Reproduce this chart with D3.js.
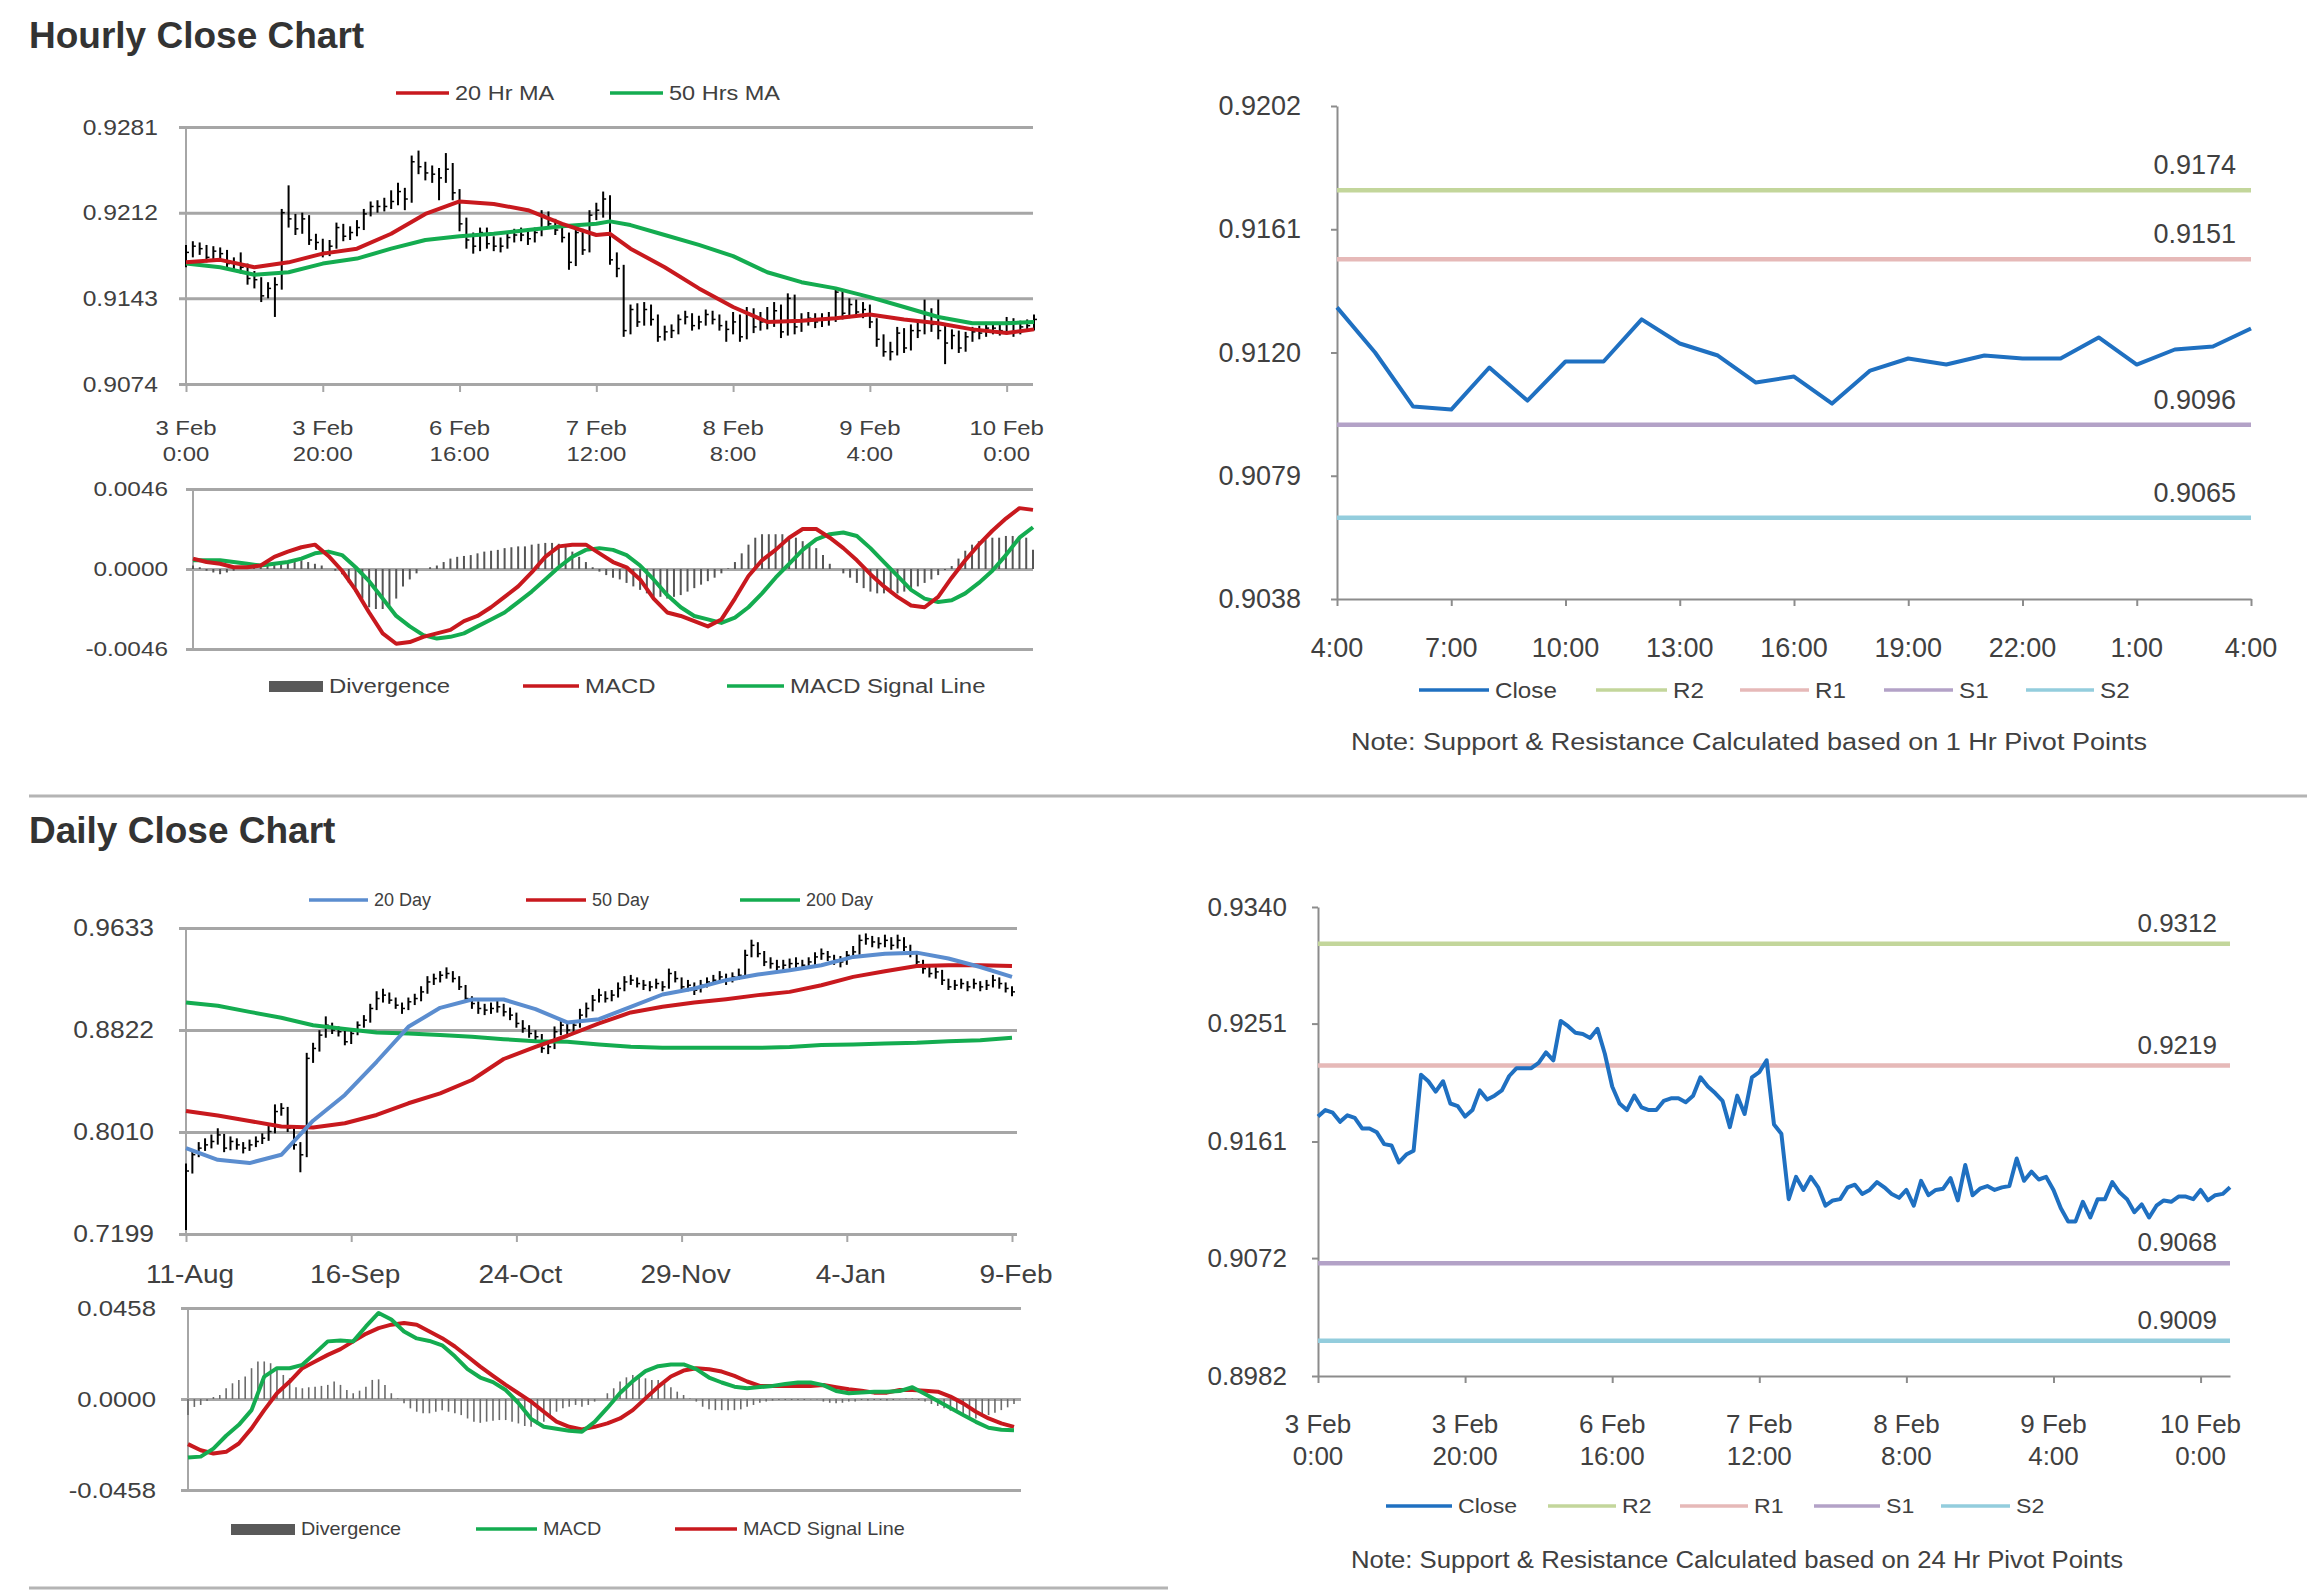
<!DOCTYPE html>
<html>
<head>
<meta charset="utf-8">
<script src="https://cdn.jsdelivr.net/npm/d3@7"></script>
<style>
    body { margin: 0; background: #ffffff; }
    svg text { font-family: "Liberation Sans", Arial, Helvetica, sans-serif; }
</style>
</head>
<body>
<svg id="chart" width="2307" height="1592"></svg>
<script>

/* * * * * * * * * * * * * *
*           DATA           *
* * * * * * * * * * * * * */

// hourly session, 3 Feb 0:00 .. 10 Feb ~4:00 (125 hourly points)
const hourTickIdx = [0, 20, 40, 60, 80, 100, 120];
const hourTickDay = ["3 Feb", "3 Feb", "6 Feb", "7 Feb", "8 Feb", "9 Feb", "10 Feb"];
const hourTickTime = ["0:00", "20:00", "16:00", "12:00", "8:00", "4:00", "0:00"];

const hourClose = [0.9180,0.9185,0.9183,0.9176,0.9181,0.9179,0.9171,0.9171,0.9168,0.9159,
    0.9158,0.9145,0.9151,0.9154,0.9212,0.9207,0.9199,0.9207,0.9190,0.9188,
    0.9180,0.9185,0.9200,0.9193,0.9196,0.9200,0.9211,0.9217,0.9217,0.9217,
    0.9221,0.9229,0.9223,0.9253,0.9249,0.9244,0.9243,0.9240,0.9247,0.9228,
    0.9203,0.9190,0.9185,0.9196,0.9187,0.9185,0.9185,0.9192,0.9194,0.9194,
    0.9191,0.9196,0.9210,0.9203,0.9198,0.9192,0.9172,0.9196,0.9182,0.9210,
    0.9214,0.9223,0.9174,0.9167,0.9117,0.9134,0.9124,0.9134,0.9126,0.9112,
    0.9116,0.9117,0.9126,0.9128,0.9121,0.9124,0.9130,0.9126,0.9121,0.9118,
    0.9124,0.9112,0.9131,0.9120,0.9124,0.9125,0.9133,0.9116,0.9143,0.9120,
    0.9125,0.9127,0.9124,0.9126,0.9127,0.9148,0.9131,0.9138,0.9132,0.9134,
    0.9124,0.9110,0.9100,0.9100,0.9115,0.9103,0.9117,0.9117,0.9130,0.9122,
    0.9117,0.9107,0.9113,0.9103,0.9112,0.9116,0.9115,0.9119,0.9119,0.9117,
    0.9124,0.9116,0.9120,0.9121,0.9126];

const hourHigh = [0.9186,0.9189,0.9188,0.9186,0.9185,0.9184,0.9182,0.9176,0.9180,0.9171,
    0.9165,0.9160,0.9156,0.9160,0.9215,0.9234,0.9211,0.9212,0.9210,0.9195,
    0.9191,0.9190,0.9204,0.9203,0.9201,0.9206,0.9215,0.9221,0.9222,0.9224,
    0.9230,0.9236,0.9232,0.9258,0.9262,0.9253,0.9250,0.9248,0.9260,0.9252,
    0.9231,0.9208,0.9196,0.9200,0.9200,0.9193,0.9192,0.9196,0.9199,0.9200,
    0.9198,0.9200,0.9214,0.9213,0.9207,0.9203,0.9196,0.9200,0.9199,0.9214,
    0.9220,0.9229,0.9226,0.9180,0.9170,0.9138,0.9139,0.9140,0.9138,0.9130,
    0.9121,0.9122,0.9130,0.9133,0.9131,0.9129,0.9134,0.9133,0.9130,0.9125,
    0.9132,0.9130,0.9136,0.9135,0.9132,0.9136,0.9140,0.9138,0.9147,0.9146,
    0.9131,0.9132,0.9131,0.9131,0.9132,0.9151,0.9150,0.9143,0.9142,0.9140,
    0.9138,0.9127,0.9114,0.9108,0.9120,0.9119,0.9122,0.9125,0.9142,0.9135,
    0.9142,0.9122,0.9118,0.9117,0.9116,0.9120,0.9121,0.9124,0.9124,0.9123,
    0.9128,0.9127,0.9125,0.9126,0.9130];

const hourLow = [0.9168,0.9176,0.9178,0.9172,0.9173,0.9174,0.9167,0.9165,0.9163,0.9154,
    0.9151,0.9140,0.9143,0.9128,0.9150,0.9200,0.9194,0.9195,0.9186,0.9182,
    0.9176,0.9177,0.9183,0.9189,0.9190,0.9193,0.9198,0.9209,0.9212,0.9213,
    0.9215,0.9218,0.9214,0.9220,0.9243,0.9238,0.9236,0.9222,0.9236,0.9222,
    0.9197,0.9183,0.9179,0.9181,0.9183,0.9181,0.9180,0.9183,0.9188,0.9189,
    0.9186,0.9188,0.9193,0.9199,0.9194,0.9188,0.9166,0.9169,0.9178,0.9180,
    0.9206,0.9208,0.9170,0.9160,0.9112,0.9114,0.9120,0.9121,0.9121,0.9108,
    0.9109,0.9111,0.9114,0.9122,0.9117,0.9118,0.9121,0.9122,0.9117,0.9108,
    0.9114,0.9108,0.9110,0.9115,0.9117,0.9118,0.9120,0.9111,0.9113,0.9114,
    0.9116,0.9121,0.9119,0.9120,0.9121,0.9124,0.9126,0.9127,0.9128,0.9127,
    0.9119,0.9104,0.9096,0.9093,0.9097,0.9099,0.9101,0.9111,0.9114,0.9116,
    0.9110,0.9090,0.9102,0.9099,0.9100,0.9108,0.9110,0.9112,0.9114,0.9113,
    0.9114,0.9112,0.9114,0.9116,0.9117];

// moving averages, read at these hourly positions
const hourMaIdx = [0,5,10,15,20,25,30,35,40,45,50,55,60,62,65,70,75,80,85,90,95,100,105,110,115,120,124];
const hourMa20 = [0.9172,0.9174,0.9168,0.9172,0.9179,0.9183,0.9195,0.9211,0.9221,0.9219,0.9214,0.9203,0.9194,
    0.9195,0.9183,0.9168,0.9151,0.9136,0.9124,0.9125,0.9127,0.9130,0.9126,0.9123,0.9118,0.9115,0.9118];
const hourMa50 = [0.9171,0.9168,0.9162,0.9164,0.9171,0.9175,0.9183,0.9190,0.9193,0.9195,0.9198,0.9201,0.9203,
    0.9205,0.9202,0.9194,0.9186,0.9177,0.9164,0.9156,0.9151,0.9144,0.9136,0.9128,0.9123,0.9123,0.9124];

// hourly MACD, read every 2nd hour
const hourMacdStep = 2;
const hourMacd = [0.0006,0.0004,0.0003,0.0001,0.0001,0.0002,0.0007,0.0010,0.00125,0.0014,
    0.00075,-0.0001,-0.0012,-0.0025,-0.0037,-0.0043,-0.0042,-0.0039,-0.0037,-0.0035,
    -0.0030,-0.0027,-0.0022,-0.0016,-0.0010,-0.0002,0.0007,0.0013,0.0014,0.0014,
    0.0009,0.0004,0.0001,-0.0006,-0.0017,-0.0025,-0.0027,-0.0030,-0.0033,-0.0029,
    -0.0017,-0.0004,0.0005,0.0011,0.0018,0.0023,0.0023,0.0018,0.0012,0.0005,
    -0.0003,-0.0010,-0.0016,-0.0021,-0.0022,-0.0016,-0.0005,0.0005,0.0014,0.0022,
    0.0029,0.0035,0.0034];
const hourSignal = [0.0005,0.0005,0.0005,0.0004,0.0003,0.0002,0.0003,0.0004,0.0006,0.0009,
    0.0010,0.0008,0.0001,-0.0007,-0.0017,-0.0027,-0.0033,-0.0038,-0.0040,-0.0039,
    -0.0037,-0.0033,-0.0029,-0.0025,-0.0019,-0.0013,-0.0006,0.0001,0.0007,0.0011,
    0.0012,0.0011,0.0008,0.0002,-0.0006,-0.0015,-0.0022,-0.0027,-0.0029,-0.0031,
    -0.0028,-0.0022,-0.0014,-0.0005,0.0003,0.0011,0.0017,0.0020,0.0021,0.0019,
    0.0012,0.0004,-0.0004,-0.0012,-0.0017,-0.0019,-0.0018,-0.0014,-0.0008,-0.0001,
    0.0008,0.0018,0.0024];
const hourDiv = [0.0002,0.0001,-0.0001,-0.0002,-0.0003,-0.0002,-0.0001,0.0000,0.0001,0.0001,
    0.0002,0.0002,0.0003,0.0004,0.0004,0.0005,0.0005,0.0004,0.0003,0.0002,
    0.0000,-0.0001,-0.0003,-0.0008,-0.0013,-0.0017,-0.0022,-0.0023,-0.0023,-0.0021,
    -0.0017,-0.0010,-0.0006,-0.00025,0.0000,0.0001,0.0002,0.0004,0.0006,0.0007,
    0.00075,0.0008,0.0009,0.0010,0.00105,0.0011,0.0012,0.00125,0.0013,0.0013,
    0.0014,0.00145,0.0015,0.0015,0.00145,0.0013,0.0010,0.0007,0.0004,0.0001,
    -0.00015,-0.00035,-0.0005,-0.0006,-0.0008,-0.0010,-0.0012,-0.0014,-0.0016,-0.0016,
    -0.0017,-0.0016,-0.0015,-0.0013,-0.0011,-0.0009,-0.0007,-0.0005,-0.00025,0.00004,
    0.0004,0.0009,0.0014,0.0018,0.0020,0.0020,0.0020,0.0020,0.0019,0.0018,
    0.0016,0.0015,0.0012,0.0008,0.0003,0.0000,-0.00025,-0.0005,-0.0008,-0.0011,
    -0.0013,-0.0014,-0.0014,-0.0014,-0.0014,-0.0013,-0.0012,-0.0010,-0.0008,-0.0006,
    -0.00035,-0.00006,0.00017,0.0006,0.00105,0.0014,0.0016,0.0017,0.0018,0.0018,
    0.0019,0.0019,0.0018,0.0018,0.0011];

const hourPriceTicks = [0.9074, 0.9143, 0.9212, 0.9281];
const hourMacdTicks = [-0.0046, 0, 0.0046];

// 1 hr pivot chart (last 24 hours)
const pivotHourTicks = ["4:00", "7:00", "10:00", "13:00", "16:00", "19:00", "22:00", "1:00", "4:00"];
const pivotHourClose = [0.9135,0.9120,0.9102,0.9101,0.9115,0.9104,0.9117,0.9117,0.9131,0.9123,
    0.9119,0.9110,0.9112,0.9103,0.9114,0.9118,0.9116,0.9119,0.9118,0.9118,
    0.9125,0.9116,0.9121,0.9122,0.9128];
const pivotHourAxis = [0.9038, 0.9079, 0.9120, 0.9161, 0.9202];
const pivotHourLevels = [0.9174, 0.9151, 0.9096, 0.9065];

// daily session, 11 Aug .. 9 Feb (131 trading days)
const dayTickIdx = [0, 26, 52, 78, 104, 130];
const dayTickLabels = ["11-Aug", "16-Sep", "24-Oct", "29-Nov", "4-Jan", "9-Feb"];

const dayClose = [0.7700,0.7830,0.7882,0.7908,0.7935,0.7987,0.7882,0.7935,0.7908,0.7882,
    0.7908,0.7935,0.7961,0.8014,0.8173,0.8199,0.8040,0.7908,0.7829,0.8596,
    0.8675,0.8781,0.8860,0.8821,0.8808,0.8728,0.8794,0.8860,0.8900,0.8993,
    0.9072,0.9099,0.9059,0.9019,0.8993,0.9046,0.9072,0.9125,0.9204,0.9231,
    0.9257,0.9271,0.9231,0.9165,0.9072,0.9032,0.8993,0.8980,0.8993,0.9006,
    0.8966,0.8940,0.8874,0.8834,0.8794,0.8768,0.8675,0.8688,0.8808,0.8860,
    0.8821,0.8860,0.8940,0.8993,0.9059,0.9099,0.9072,0.9099,0.9152,0.9204,
    0.9218,0.9191,0.9178,0.9165,0.9191,0.9165,0.9271,0.9231,0.9165,0.9178,
    0.9138,0.9178,0.9204,0.9218,0.9244,0.9218,0.9244,0.9257,0.9416,0.9495,
    0.9429,0.9363,0.9350,0.9323,0.9337,0.9350,0.9350,0.9337,0.9363,0.9403,
    0.9429,0.9403,0.9376,0.9363,0.9416,0.9443,0.9535,0.9548,0.9522,0.9509,
    0.9535,0.9495,0.9535,0.9482,0.9429,0.9363,0.9310,0.9271,0.9284,0.9218,
    0.9165,0.9178,0.9191,0.9165,0.9191,0.9165,0.9178,0.9218,0.9191,0.9152,
    0.9125];

const dayHigh = [0.7760,0.7870,0.7930,0.7960,0.7990,0.8040,0.7995,0.7975,0.7960,0.7930,
    0.7950,0.7975,0.8000,0.8060,0.8230,0.8240,0.8210,0.8060,0.7930,0.8640,
    0.8720,0.8820,0.8930,0.8880,0.8850,0.8820,0.8830,0.8890,0.8940,0.9030,
    0.9130,0.9150,0.9120,0.9080,0.9040,0.9080,0.9110,0.9170,0.9250,0.9270,
    0.9290,0.9320,0.9290,0.9250,0.9180,0.9090,0.9050,0.9030,0.9040,0.9060,
    0.9030,0.9000,0.8960,0.8900,0.8860,0.8820,0.8790,0.8740,0.8850,0.8900,
    0.8880,0.8900,0.8990,0.9040,0.9100,0.9150,0.9130,0.9140,0.9200,0.9250,
    0.9260,0.9240,0.9220,0.9210,0.9230,0.9210,0.9310,0.9290,0.9240,0.9220,
    0.9200,0.9220,0.9240,0.9260,0.9290,0.9270,0.9280,0.9310,0.9460,0.9540,
    0.9520,0.9450,0.9400,0.9380,0.9380,0.9390,0.9400,0.9380,0.9400,0.9440,
    0.9470,0.9450,0.9420,0.9410,0.9450,0.9490,0.9580,0.9590,0.9570,0.9560,
    0.9580,0.9560,0.9580,0.9560,0.9500,0.9440,0.9380,0.9330,0.9320,0.9300,
    0.9230,0.9220,0.9230,0.9210,0.9230,0.9210,0.9220,0.9260,0.9240,0.9200,
    0.9170];

const dayLow = [0.7230,0.7680,0.7810,0.7860,0.7880,0.7910,0.7850,0.7865,0.7870,0.7840,
    0.7860,0.7890,0.7915,0.7940,0.8000,0.8140,0.8010,0.7870,0.7690,0.7810,
    0.8560,0.8650,0.8760,0.8790,0.8770,0.8700,0.8710,0.8780,0.8840,0.8880,
    0.8980,0.9040,0.9030,0.8990,0.8950,0.8980,0.9020,0.9050,0.9110,0.9180,
    0.9200,0.9230,0.9200,0.9140,0.9050,0.8990,0.8950,0.8940,0.8950,0.8960,
    0.8930,0.8900,0.8840,0.8800,0.8760,0.8720,0.8640,0.8630,0.8670,0.8780,
    0.8790,0.8800,0.8840,0.8920,0.8970,0.9040,0.9040,0.9050,0.9080,0.9130,
    0.9180,0.9160,0.9140,0.9130,0.9150,0.9130,0.9150,0.9200,0.9130,0.9130,
    0.9100,0.9120,0.9160,0.9180,0.9200,0.9180,0.9200,0.9220,0.9240,0.9400,
    0.9400,0.9330,0.9310,0.9290,0.9300,0.9310,0.9310,0.9300,0.9310,0.9340,
    0.9380,0.9370,0.9340,0.9320,0.9340,0.9390,0.9420,0.9500,0.9480,0.9470,
    0.9480,0.9460,0.9470,0.9450,0.9400,0.9330,0.9270,0.9240,0.9230,0.9180,
    0.9140,0.9140,0.9150,0.9130,0.9150,0.9130,0.9140,0.9160,0.9150,0.9120,
    0.9090];

// daily moving averages, read every 5th day
const dayMaStep = 5;
const dayMa20 = [0.7882,0.7789,0.7763,0.7829,0.8100,0.8305,0.8569,0.8847,0.8998,0.9064,0.9064,0.8988,0.8882,
    0.8908,0.9006,0.9104,0.9152,0.9218,0.9263,0.9297,0.9337,0.9403,0.9429,0.9437,0.9390,0.9323,0.9244];
const dayMa50 = [0.8178,0.8141,0.8098,0.8054,0.8046,0.8080,0.8146,0.8239,0.8318,0.8424,0.8591,0.8688,0.8776,
    0.8874,0.8961,0.9006,0.9040,0.9067,0.9099,0.9125,0.9178,0.9244,0.9289,0.9331,0.9337,0.9337,0.9331];
const dayMa200 = [0.9040,0.9014,0.8966,0.8919,0.8860,0.8829,0.8802,0.8794,0.8781,0.8768,0.8749,0.8733,0.8728,
    0.8707,0.8688,0.8680,0.8680,0.8680,0.8680,0.8686,0.8702,0.8707,0.8715,0.8720,0.8733,0.8741,0.8760];

// daily MACD, read every 2nd day
const dayMacdStep = 2;
const dayMacd = [-0.0295,-0.0290,-0.0250,-0.0185,-0.0130,-0.0056,0.0113,0.0155,0.0155,0.0172,
    0.0231,0.0290,0.0295,0.0290,0.0365,0.0433,0.0400,0.0340,0.0305,0.0292,
    0.0270,0.0215,0.0150,0.0108,0.0085,0.0045,-0.0020,-0.0100,-0.0140,-0.0150,
    -0.0160,-0.0165,-0.0115,-0.0045,0.0030,0.0090,0.0140,0.0165,0.0174,0.0174,
    0.0150,0.0108,0.0083,0.0062,0.0054,0.0060,0.0066,0.0075,0.0083,0.0083,
    0.0070,0.0040,0.0029,0.0033,0.0037,0.0037,0.0040,0.0059,0.0025,-0.0010,
    -0.0045,-0.0080,-0.0115,-0.0145,-0.0155,-0.0157];
const daySignal = [-0.0227,-0.0258,-0.0274,-0.0266,-0.0224,-0.0148,-0.0056,0.0029,0.0088,0.0155,
    0.0189,0.0222,0.0251,0.0290,0.0328,0.0357,0.0374,0.0382,0.0374,0.0340,
    0.0306,0.0264,0.0214,0.0163,0.0116,0.0071,0.0029,-0.0013,-0.0064,-0.0114,
    -0.0140,-0.0153,-0.0140,-0.0123,-0.0098,-0.0056,0.0003,0.0062,0.0113,0.0143,
    0.0155,0.0150,0.0138,0.0116,0.0088,0.0066,0.0066,0.0066,0.0066,0.0066,
    0.0070,0.0059,0.0049,0.0042,0.0032,0.0032,0.0045,0.0045,0.0042,0.0037,
    0.0012,-0.0022,-0.0064,-0.0098,-0.0123,-0.0140];
const dayDiv = [-0.0080,-0.0040,-0.0030,-0.0010,0.0010,0.0020,0.0054,0.0079,0.0096,0.0113,
    0.0155,0.0189,0.0189,0.0180,0.0146,0.0121,0.0104,0.0059,0.0054,0.0059,
    0.0062,0.0066,0.0071,0.0088,0.0071,0.0045,0.0029,0.0042,0.0062,0.0096,
    0.0099,0.0071,0.0029,0.0003,-0.0022,-0.0047,-0.0064,-0.0072,-0.0072,-0.0064,
    -0.0056,-0.0064,-0.0072,-0.0081,-0.0098,-0.0114,-0.0120,-0.0114,-0.0109,-0.0106,
    -0.0106,-0.0114,-0.0123,-0.0136,-0.0140,-0.0131,-0.0114,-0.0089,-0.0064,-0.0047,
    -0.0039,-0.0030,-0.0039,-0.0030,-0.0013,0.0000,0.0029,0.0054,0.0088,0.0109,
    0.0121,0.0116,0.0104,0.0096,0.0096,0.0079,0.0059,0.0037,0.0020,0.0003,
    -0.0013,-0.0039,-0.0052,-0.0056,-0.0056,-0.0056,-0.0056,-0.0052,-0.0039,-0.0030,
    -0.0019,-0.0013,-0.0008,-0.0005,-0.0005,-0.0005,-0.0005,-0.0005,-0.0002,-0.0002,
    -0.0013,-0.0019,-0.0022,-0.0019,-0.0013,-0.0013,-0.0005,-0.0008,-0.0005,-0.0005,
    -0.0008,-0.0005,-0.0002,0.0002,0.0003,-0.0005,-0.0013,-0.0025,-0.0035,-0.0047,
    -0.0059,-0.0069,-0.0081,-0.0093,-0.0098,-0.0089,-0.0081,-0.0069,-0.0056,-0.0042,
    -0.0025];

const dayPriceTicks = [0.7199, 0.8010, 0.8822, 0.9633];
const dayMacdTicks = [-0.0458, 0, 0.0458];

// 24 hr pivot chart (hourly closes, same hours as the hourly chart)
const pivotDayAxis = [0.8982, 0.9072, 0.9161, 0.9251, 0.9340];
const pivotDayLevels = [0.9312, 0.9219, 0.9068, 0.9009];

const levelNames = ["R2", "R1", "S1", "S2"];


/* * * * * * * * * * * * * *
*          DRAWING         *
* * * * * * * * * * * * * */

const INK = "#404040";
const GRID = "#a6a6a6";
const AXIS = "#8c8c8c";
const RED = "#c8191e";
const GREEN = "#14ac50";
const BLUE_MA = "#5b8dcf";
const BLUE = "#1f70c1";
const LEVEL_COLORS = ["#c3d69b", "#e6b9b8", "#b3a2c7", "#93cddd"];

// plain hyphen for negative numbers, like the original sheet
const fmt4 = d3.formatLocale({decimal: ".", thousands: ",", grouping: [3], currency: ["", ""], minus: "-"})
    .format(".4f");

const svg = d3.select("#chart");

// text with optional horizontal stretch, (x, y) = anchor point on the baseline
function label(x, y, str, size, anchor, sx) {
    return svg.append("text")
        .attr("transform", `translate(${x},${y}) scale(${sx || 1},1)`)
        .attr("text-anchor", anchor || "start")
        .attr("font-size", size)
        .attr("fill", INK)
        .text(str);
}

function legendLine(x1, x2, y, color, text, size, sx) {
    svg.append("line")
        .attr("x1", x1).attr("x2", x2).attr("y1", y).attr("y2", y)
        .attr("stroke", color).attr("stroke-width", 3.5);
    label(x2 + 6, y + size * 0.35, text, size, "start", sx);
}

function legendBox(x1, x2, y, text, size, sx) {
    svg.append("rect")
        .attr("x", x1).attr("y", y - 5).attr("width", x2 - x1).attr("height", 11)
        .attr("fill", "#595959");
    label(x2 + 6, y + size * 0.35, text, size, "start", sx);
}

// horizontal gridlines + labels on the left (Excel style gridded panel)
function gridAxis(yScale, ticks, left, right, labelRight, size, sx) {
    const g = svg.append("g")
        .attr("transform", `translate(${left - 7},0)`)
        .call(d3.axisLeft(yScale)
            .tickValues(ticks)
            .tickFormat(fmt4)
            .tickSize(-(right - left + 7))
            .tickPadding((left - 7 - labelRight) / sx));
    g.select(".domain").remove();
    g.selectAll(".tick line").attr("stroke", GRID).attr("stroke-width", 3);
    g.selectAll(".tick text")
        .attr("font-size", size)
        .attr("fill", INK)
        .attr("transform", `scale(${sx},1)`);
    g.attr("font-family", null);

    // vertical axis line
    svg.append("line")
        .attr("x1", left).attr("x2", left)
        .attr("y1", yScale(ticks[ticks.length - 1])).attr("y2", yScale(ticks[0]))
        .attr("stroke", GRID).attr("stroke-width", 2);
}

function lineOf(xScale, yScale, idxOf) {
    return d3.line().x((d, i) => xScale(idxOf(i))).y(d => yScale(d));
}

function drawPath(data, gen, color, width) {
    svg.append("path")
        .datum(data)
        .attr("fill", "none")
        .attr("stroke", color)
        .attr("stroke-width", width)
        .attr("stroke-linejoin", "round")
        .attr("d", gen);
}

function drawBars(xScale, yScale, high, low, close) {
    const g = svg.append("g");
    g.selectAll("line.hl")
        .data(high)
        .join("line")
        .attr("class", "hl")
        .attr("x1", (d, i) => xScale(i)).attr("x2", (d, i) => xScale(i))
        .attr("y1", d => yScale(d)).attr("y2", (d, i) => yScale(low[i]))
        .attr("stroke", "#000").attr("stroke-width", 2);
    g.selectAll("line.cl")
        .data(close)
        .join("line")
        .attr("class", "cl")
        .attr("x1", (d, i) => xScale(i)).attr("x2", (d, i) => xScale(i) + 3)
        .attr("y1", d => yScale(d)).attr("y2", d => yScale(d))
        .attr("stroke", "#000").attr("stroke-width", 1.5);
}

function drawDivergence(xScale, yScale, values, color, width) {
    svg.append("g").selectAll("line")
        .data(values)
        .join("line")
        .attr("x1", (d, i) => xScale(i)).attr("x2", (d, i) => xScale(i))
        .attr("y1", yScale(0)).attr("y2", d => yScale(d))
        .attr("stroke", color).attr("stroke-width", width);
}

// pivot (support / resistance) chart
function pivotChart(o) {
    const x = d3.scaleLinear().domain([0, o.n]).range([o.left, o.right]);
    const y = d3.scaleLinear().domain([o.ticks[0], o.ticks[o.ticks.length - 1]]).range([o.bottom, o.top]);

    const ya = svg.append("g")
        .attr("transform", `translate(${o.left},0)`)
        .call(d3.axisLeft(y).tickValues(o.ticks).tickFormat(fmt4)
            .tickSize(6).tickSizeOuter(0).tickPadding(o.left - 6 - o.labelRight));
    const xa = svg.append("g")
        .attr("transform", `translate(0,${o.bottom})`)
        .call(d3.axisBottom(x).tickValues(o.xTicks).tickSize(7).tickSizeOuter(0).tickFormat(""));
    [ya, xa].forEach(g => {
        g.attr("font-family", null);
        g.select(".domain").attr("stroke", AXIS).attr("stroke-width", 2);
        g.selectAll(".tick line").attr("stroke", AXIS).attr("stroke-width", 2);
    });
    ya.selectAll(".tick text").attr("font-size", o.size).attr("fill", INK);

    // x labels (one or two rows)
    o.xTicks.forEach((t, i) => {
        o.xLabels.forEach((row, r) => {
            label(x(t), o.bottom + o.xLabelDy[r], row[i], o.size, "middle", 1);
        });
    });

    // support / resistance levels
    o.levels.forEach((v, i) => {
        svg.append("line")
            .attr("x1", x(0)).attr("x2", x(o.n))
            .attr("y1", y(v)).attr("y2", y(v))
            .attr("stroke", LEVEL_COLORS[i]).attr("stroke-width", 4.5);
        label(o.levelRight, y(v) - o.levelDy, fmt4(v), o.size, "end", 1);
    });

    drawPath(o.close, lineOf(x, y, i => i), BLUE, 4);

    // legend
    legendLine(o.legend[0][0], o.legend[0][1], o.legendY, BLUE, "Close", o.legendSize, 1.1);
    levelNames.forEach((name, i) => {
        const p = o.legend[i + 1];
        legendLine(p[0], p[1], o.legendY, LEVEL_COLORS[i], name, o.legendSize, 1.1);
    });

    svg.append("text")
        .attr("x", o.noteX).attr("y", o.noteY)
        .attr("text-anchor", "middle")
        .attr("font-size", 23)
        .attr("fill", INK)
        .attr("textLength", o.noteW)
        .attr("lengthAdjust", "spacingAndGlyphs")
        .text(o.note);
}


/* ---------- section titles and separators ---------- */

label(29, 48, "Hourly Close Chart", 37, "start", 1).attr("font-weight", "bold").attr("fill", "#333");
label(29, 843, "Daily Close Chart", 37, "start", 1).attr("font-weight", "bold").attr("fill", "#333");

svg.append("line").attr("x1", 29).attr("x2", 2307).attr("y1", 796).attr("y2", 796)
    .attr("stroke", "#b4b4b4").attr("stroke-width", 3);
svg.append("line").attr("x1", 29).attr("x2", 1168).attr("y1", 1588).attr("y2", 1588)
    .attr("stroke", "#b4b4b4").attr("stroke-width", 3);


/* ---------- hourly price panel ---------- */

const xH = d3.scaleLinear().domain([0, 124]).range([186, 1034]);
const yH = d3.scaleLinear().domain([0.9074, 0.9281]).range([384, 127]);

gridAxis(yH, hourPriceTicks, 186, 1033, 158, 22, 1.12);

const xaH = svg.append("g")
    .attr("transform", "translate(0,384)")
    .call(d3.axisBottom(xH).tickValues(hourTickIdx).tickSize(8).tickSizeOuter(0).tickFormat(""));
xaH.select(".domain").remove();
xaH.selectAll(".tick line").attr("stroke", GRID).attr("stroke-width", 2);
hourTickIdx.forEach((t, i) => {
    label(xH(t), 435, hourTickDay[i], 21, "middle", 1.14);
    label(xH(t), 461, hourTickTime[i], 21, "middle", 1.14);
});

drawBars(xH, yH, hourHigh, hourLow, hourClose);
drawPath(hourMa50, lineOf(xH, yH, i => hourMaIdx[i]), GREEN, 4);
drawPath(hourMa20, lineOf(xH, yH, i => hourMaIdx[i]), RED, 4);

legendLine(396, 449, 93, RED, "20 Hr MA", 21, 1.12);
legendLine(610, 663, 93, GREEN, "50 Hrs MA", 21, 1.12);


/* ---------- hourly MACD panel ---------- */

const xHm = d3.scaleLinear().domain([0, 124]).range([193, 1033]);
const yHm = d3.scaleLinear().domain([-0.0046, 0.0046]).range([649, 489]);

gridAxis(yHm, hourMacdTicks, 193, 1033, 168, 21, 1.16);
drawDivergence(xHm, yHm, hourDiv, "#555555", 2);
drawPath(hourSignal, lineOf(xHm, yHm, i => i * hourMacdStep), GREEN, 4);
drawPath(hourMacd, lineOf(xHm, yHm, i => i * hourMacdStep), RED, 4);

legendBox(269, 323, 686, "Divergence", 21, 1.14);
legendLine(523, 579, 686, RED, "MACD", 21, 1.14);
legendLine(727, 784, 686, GREEN, "MACD Signal Line", 21, 1.14);


/* ---------- 1 hr pivot chart ---------- */

pivotChart({
    n: 24, left: 1337, right: 2251, top: 106, bottom: 599,
    ticks: pivotHourAxis, labelRight: 1301, size: 27,
    xTicks: d3.range(0, 25, 3), xLabels: [pivotHourTicks], xLabelDy: [58],
    levels: pivotHourLevels, levelRight: 2236, levelDy: 16,
    close: pivotHourClose,
    legendY: 690, legendSize: 22,
    legend: [[1419, 1489], [1596, 1667], [1740, 1809], [1884, 1953], [2026, 2094]],
    note: "Note: Support & Resistance Calculated based on 1 Hr Pivot Points",
    noteX: 1749, noteY: 750, noteW: 796
});


/* ---------- daily price panel ---------- */

const xD = d3.scaleLinear().domain([0, 130]).range([186, 1012]);
const yD = d3.scaleLinear().domain([0.7199, 0.9633]).range([1234, 928]);

gridAxis(yD, dayPriceTicks, 186, 1017, 154, 24, 1.1);

const xaD = svg.append("g")
    .attr("transform", "translate(0,1234)")
    .call(d3.axisBottom(xD).tickValues(dayTickIdx).tickSize(8).tickSizeOuter(0).tickFormat(""));
xaD.select(".domain").remove();
xaD.selectAll(".tick line").attr("stroke", GRID).attr("stroke-width", 2);
dayTickIdx.forEach((t, i) => label(xD(t) + 4, 1283, dayTickLabels[i], 25, "middle", 1.12));

drawBars(xD, yD, dayHigh, dayLow, dayClose);
drawPath(dayMa200, lineOf(xD, yD, i => i * dayMaStep), GREEN, 4);
drawPath(dayMa50, lineOf(xD, yD, i => i * dayMaStep), RED, 4);
drawPath(dayMa20, lineOf(xD, yD, i => i * dayMaStep), BLUE_MA, 4);

legendLine(309, 368, 900, BLUE_MA, "20 Day", 18, 1);
legendLine(526, 586, 900, RED, "50 Day", 18, 1);
legendLine(740, 800, 900, GREEN, "200 Day", 18, 1);


/* ---------- daily MACD panel ---------- */

const xDm = d3.scaleLinear().domain([0, 130]).range([188, 1014]);
const yDm = d3.scaleLinear().domain([-0.0458, 0.0458]).range([1490, 1308]);

gridAxis(yDm, dayMacdTicks, 188, 1021, 156, 23, 1.12);
drawDivergence(xDm, yDm, dayDiv, "#6a6a6a", 1.6);
drawPath(daySignal, lineOf(xDm, yDm, i => i * dayMacdStep), RED, 4);
drawPath(dayMacd, lineOf(xDm, yDm, i => i * dayMacdStep), GREEN, 4);

legendBox(231, 295, 1529, "Divergence", 18, 1.1);
legendLine(476, 537, 1529, GREEN, "MACD", 18, 1.1);
legendLine(675, 737, 1529, RED, "MACD Signal Line", 18, 1.1);


/* ---------- 24 hr pivot chart ---------- */

pivotChart({
    n: 124, left: 1318, right: 2230, top: 907, bottom: 1376,
    ticks: pivotDayAxis, labelRight: 1287, size: 26,
    xTicks: hourTickIdx, xLabels: [hourTickDay, hourTickTime], xLabelDy: [57, 89],
    levels: pivotDayLevels, levelRight: 2217, levelDy: 12,
    close: hourClose,
    legendY: 1506, legendSize: 21,
    legend: [[1386, 1452], [1548, 1616], [1680, 1748], [1814, 1880], [1941, 2010]],
    note: "Note: Support & Resistance Calculated based on 24 Hr Pivot Points",
    noteX: 1737, noteY: 1568, noteW: 772
});

</script>
</body>
</html>
